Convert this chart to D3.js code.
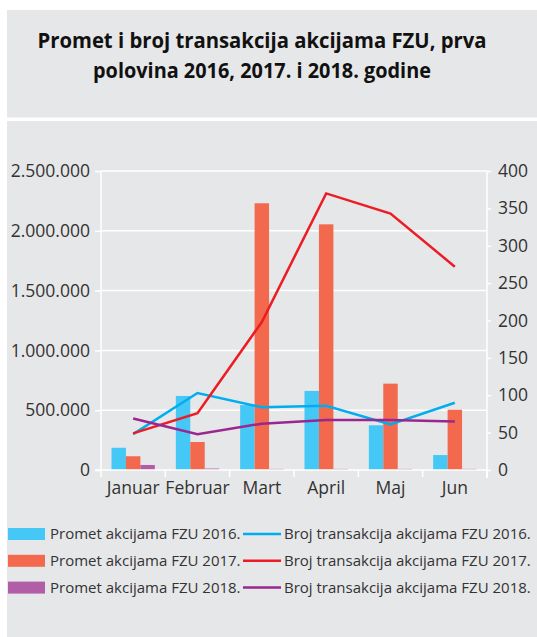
<!DOCTYPE html>
<meta charset="utf-8">
<style>
 body { margin: 0; background: #fff; }
 text { font-family: "Open Sans", sans-serif; fill: #333; }
 .title text { font-weight: bold; fill: #111; }
 .grid line { stroke: #fff; stroke-width: 1.5px; }
 .axis path, .axis line { stroke: #fff; stroke-width: 1.5px; }
 .axis text { font-size: 17.5px; fill: #333; }
 .series { fill: none; stroke-width: 2.5px; }
 .legend text { font-size: 15px; }
</style>

<svg class="chart"></svg>

<script src="https://cdn.jsdelivr.net/npm/d3@7"></script>

<script>
 var width = 537, height = 637;

 // data
 var months = ["Januar", "Februar", "Mart", "April", "Maj", "Jun"];
 var promet2016 = [186000, 619000, 543000, 661000, 374000, 125000];
 var promet2017 = [115000, 234000, 2230000, 2054000, 722000, 504000];
 var promet2018 = [42000, 12000, 9000, 9000, 9000, 9000];
 var broj2016 = [48, 103, 84, 86, 61, 90];
 var broj2017 = [49, 76, 198, 370, 343, 272];
 var broj2018 = [69, 48, 62, 67, 67, 65];
 var leftTicks = [0, 500000, 1000000, 1500000, 2000000, 2500000];
 var rightTicks = [0, 50, 100, 150, 200, 250, 300, 350, 400];
 var titleLines = ["Promet i broj transakcija akcijama FZU, prva",
                   "polovina 2016, 2017. i 2018. godine"];
 var barLabels = ["Promet akcijama FZU 2016.", "Promet akcijama FZU 2017.", "Promet akcijama FZU 2018."];
 var lineLabels = ["Broj transakcija akcijama FZU 2016.", "Broj transakcija akcijama FZU 2017.", "Broj transakcija akcijama FZU 2018."];

 var barColors = ["#45c8f5", "#f2694e", "#b25ea6"];
 var lineColors = ["#00aeef", "#ed1c24", "#99278f"];

 var svg = d3.select(".chart").attr("width", width).attr("height", height);

 // panels
 svg.append("rect").attr("x", 7).attr("y", 10).attr("width", 530).attr("height", 107.5).attr("fill", "#e6e7e8");
 svg.append("rect").attr("x", 7).attr("y", 121).attr("width", 530).attr("height", 516).attr("fill", "#e6e7e8");

 // title
 var title = svg.append("g").attr("class", "title");
 var titleWidths = [449, 338];
 titleLines.forEach(function(t, i) {
     title.append("text")
         .attr("x", 262).attr("y", 48 + i * 30)
         .attr("text-anchor", "middle")
         .attr("font-size", "21px")
         .attr("textLength", titleWidths[i])
         .attr("lengthAdjust", "spacingAndGlyphs")
         .text(t);
 });

 var x0 = d3.scaleBand().domain(months).range([101, 487]).paddingInner(0).paddingOuter(0);
 var x1 = d3.scaleBand().domain([0, 1, 2]).range([10.5, x0.bandwidth() - 10.5]);
 var yL = d3.scaleLinear().domain([0, 2500000]).range([470, 171]);
 var yR = d3.scaleLinear().domain([0, 400]).range([470, 171]);

 var fmt = function(d) { return d3.format(",")(d).replace(/,/g, "."); };

 // gridlines
 svg.append("g").attr("class", "grid").selectAll("line").data(leftTicks.slice(1)).enter()
     .append("line")
     .attr("x1", 101).attr("x2", 487)
     .attr("y1", function(d) { return yL(d); }).attr("y2", function(d) { return yL(d); });

 // bars
 var series = [promet2016, promet2017, promet2018];
 series.forEach(function(vals, s) {
     svg.append("g").selectAll("rect").data(vals).enter()
         .append("rect")
         .attr("x", function(d, i) { return x0(months[i]) + x1(s); })
         .attr("width", x1.bandwidth())
         .attr("y", function(d) { return yL(d); })
         .attr("height", function(d) { return 470 - yL(d); })
         .attr("fill", barColors[s]);
 });

 // axes
 var axL = svg.append("g").attr("class", "axis").attr("transform", "translate(101,0)")
     .call(d3.axisLeft(yL).tickValues(leftTicks).tickFormat(fmt).tickSize(6).tickPadding(5));
 var axR = svg.append("g").attr("class", "axis").attr("transform", "translate(487,0)")
     .call(d3.axisRight(yR).tickValues(rightTicks).tickSize(4).tickPadding(7));
 var axB = svg.append("g").attr("class", "axis").attr("transform", "translate(0,470)")
     .call(d3.axisBottom(x0).tickSize(0).tickPadding(8));
 axB.selectAll("text").attr("dy", "0.9em");
 [axL, axR, axB].forEach(function(a) { a.select(".domain").attr("stroke", "#fff"); a.selectAll("line").attr("stroke", "#fff"); });
 axL.select(".domain").attr("d", "M0,470V171");
 axR.select(".domain").attr("d", "M0,478V171");
 axB.select(".domain").attr("d", "M95,0H487");

 // category boundary ticks
 axB.selectAll(".bound").data(months.concat(["end"])).enter()
     .append("line")
     .attr("x1", function(d, i) { return 101 + i * x0.bandwidth(); })
     .attr("x2", function(d, i) { return 101 + i * x0.bandwidth(); })
     .attr("y1", 0).attr("y2", 7)
     .attr("stroke", "#fff").attr("stroke-width", 1.5);

 // lines
 var line = d3.line()
     .x(function(d, i) { return x0(months[i]) + x0.bandwidth() / 2; })
     .y(function(d) { return yR(d); });
 [broj2016, broj2017, broj2018].forEach(function(vals, s) {
     svg.append("path").attr("class", "series")
         .attr("d", line(vals))
         .attr("stroke", lineColors[s]);
 });

 // legend
 var legend = svg.append("g").attr("class", "legend");
 barLabels.forEach(function(t, i) {
     var y = 534 + i * 26.8;
     legend.append("rect").attr("x", 8).attr("y", y - 6).attr("width", 37).attr("height", 12).attr("fill", barColors[i]);
     legend.append("text").attr("x", 50).attr("y", y).attr("dy", "0.35em").text(t);
     legend.append("line").attr("x1", 243).attr("x2", 281).attr("y1", y).attr("y2", y)
         .attr("stroke", lineColors[i]).attr("stroke-width", 2.5);
     legend.append("text").attr("x", 284).attr("y", y).attr("dy", "0.35em").text(lineLabels[i]);
 });
</script>
